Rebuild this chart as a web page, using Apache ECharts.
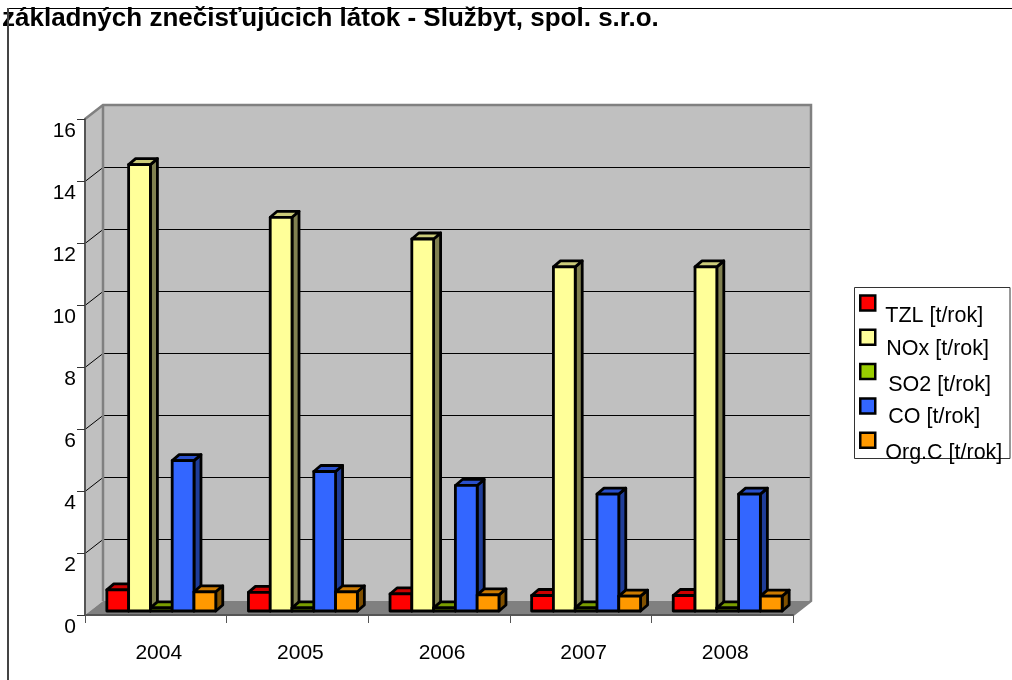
<!DOCTYPE html>
<html>
<head>
<meta charset="utf-8">
<title>Emisie</title>
<script src="https://cdn.jsdelivr.net/npm/echarts@6/dist/echarts.min.js"></script>
<style>
  html, body { margin: 0; padding: 0; background: #fff; }
  #chart { width: 1012px; height: 680px; }
</style>
</head>
<body>
<div id="chart"></div>
<script>
  const titleText = 'základných znečisťujúcich látok - Službyt, spol. s.r.o.'
  const years = ['2004', '2005', '2006', '2007', '2008']
  const yTicks = [2, 4, 6, 8, 10, 12, 14, 16]

  const tzl = [0.68, 0.6, 0.55, 0.5, 0.5]
  const nox = [14.4, 12.7, 12.0, 11.1, 11.1]
  const so2 = [0.1, 0.1, 0.1, 0.1, 0.1]
  const co = [4.85, 4.5, 4.05, 3.77, 3.77]
  const orgC = [0.62, 0.62, 0.52, 0.48, 0.48]

  const seriesNames = ['TZL [t/rok]', 'NOx [t/rok]', 'SO2 [t/rok]', 'CO [t/rok]', 'Org.C [t/rok]']
  const seriesValues = [tzl, nox, so2, co, orgC]
  const faceColors = ['#ff0000', '#ffff99', '#99cc00', '#3366ff', '#ff9900']
  const topColors = ['#cc0000', '#cccc7a', '#7a9e00', '#2a50cc', '#cc7a00']
  const sideColors = ['#800000', '#808050', '#4d6600', '#1f3d99', '#805000']

  // 3d look: how far the back wall and the bars are pushed
  const wallDx = 18, wallDy = 14
  const barShiftX = 5.5, barShiftY = 4
  const barDx = 7, barDy = 6

  function renderWalls(params, api) {
    const g = params.coordSys
    const left = g.x, right = g.x + g.width, top = g.y, bottom = g.y + g.height
    const wall = {fill: '#c0c0c0', stroke: null}
    let children = [
      {type: 'polygon', shape: {points: [[left, top], [left + wallDx, top - wallDy], [left + wallDx, bottom - wallDy], [left, bottom]]}, style: wall},
      {type: 'rect', shape: {x: left + wallDx, y: top - wallDy, width: g.width, height: g.height}, style: wall},
      {type: 'polygon', shape: {points: [[left, bottom], [left + wallDx, bottom - wallDy], [right + wallDx, bottom - wallDy], [right, bottom]]}, style: {fill: '#808080'}}
    ]
    yTicks.forEach(t => {
      const y = Math.round(api.coord([0, t])[1]) + 0.5
      if (t < 16) {
        children.push({type: 'line', shape: {x1: left + wallDx, y1: y - wallDy, x2: right + wallDx, y2: y - wallDy}, style: {stroke: '#000', lineWidth: 1}})
        children.push({type: 'line', shape: {x1: left, y1: y, x2: left + wallDx, y2: y - wallDy}, style: {stroke: '#000', lineWidth: 1}})
      }
    })
    // grey outline of the walls
    children.push({
      type: 'polyline',
      shape: {points: [[left, top], [left + wallDx, top - wallDy], [right + wallDx, top - wallDy], [right + wallDx, bottom - wallDy], [right, bottom]]},
      style: {fill: null, stroke: '#808080', lineWidth: 2.5}
    })
    children.push({type: 'line', shape: {x1: left + wallDx, y1: top - wallDy, x2: left + wallDx, y2: bottom - wallDy}, style: {stroke: '#808080', lineWidth: 2.5}})
    return {type: 'group', children: children}
  }

  function makeBarRenderer(i) {
    return function (params, api) {
      const catWidth = api.size([1, 0])[0]
      const w = catWidth / 6.5
      const center = api.coord([api.value(0), 0])
      const tip = api.coord([api.value(0), api.value(1)])
      const x0 = center[0] + (i - 2.5) * w + barShiftX
      const x1 = x0 + w
      const yb = center[1] - barShiftY
      const yt = tip[1] - barShiftY
      const edge = {stroke: '#000', lineWidth: 2.8, lineJoin: 'round'}
      return {
        type: 'group',
        children: [
          {type: 'polygon', shape: {points: [[x1, yb], [x1 + barDx, yb - barDy], [x1 + barDx, yt - barDy], [x1, yt]]}, style: {fill: sideColors[i], ...edge}},
          {type: 'polygon', shape: {points: [[x0, yt], [x0 + barDx, yt - barDy], [x1 + barDx, yt - barDy], [x1, yt]]}, style: {fill: topColors[i], ...edge}},
          {type: 'rect', shape: {x: x0, y: yt, width: w, height: yb - yt}, style: {fill: faceColors[i], ...edge}}
        ]
      }
    }
  }

  const barSeries = seriesNames.map((name, i) => ({
    name: name,
    type: 'custom',
    z: 3,
    silent: true,
    renderItem: makeBarRenderer(i),
    encode: {x: 0, y: 1},
    itemStyle: {color: faceColors[i]},
    data: seriesValues[i].map((v, k) => [k, v])
  }))

  // legend text sits under its key, each row a little differently:
  // an empty first line pushes the label down, both lines add up to the same height
  const legendRowHeight = 48
  const legendDrop = [26, 24, 26, 22, 26]
  const legendIndent = [5, 6, 8, 8, 5]

  const chart = echarts.init(document.getElementById('chart'), null, {renderer: 'canvas'})
  chart.setOption({
    animation: false,
    backgroundColor: '#fff',
    textStyle: {fontFamily: 'Liberation Sans'},
    title: {
      text: titleText,
      left: 2,
      top: 6,
      padding: 0,
      textStyle: {fontFamily: 'Liberation Sans', fontSize: 26, fontWeight: 'bold', color: '#000'}
    },
    graphic: [
      {type: 'line', z: 20, shape: {x1: 8, y1: 8.5, x2: 1012, y2: 8.5}, style: {stroke: '#000', lineWidth: 1}},
      {type: 'line', z: 20, shape: {x1: 8, y1: 8, x2: 8, y2: 680}, style: {stroke: '#444', lineWidth: 2}},
      {type: 'rect', z: 0, shape: {x: 854.5, y: 287.5, width: 155.5, height: 171}, style: {fill: '#fff', stroke: '#333', lineWidth: 1}}
    ],
    legend: {
      left: 859,
      top: 279,
      orient: 'vertical',
      padding: 0,
      itemWidth: 15,
      itemHeight: 15,
      itemGap: -13.7,
      selectedMode: false,
      icon: 'rect',
      z: 10,
      itemStyle: {borderColor: '#000', borderWidth: 2.5},
      formatter: function (name) {
        return '{s|\u00a0}\n{t|' + name + '}'
      },
      data: seriesNames.map((name, i) => ({
        name: name,
        textStyle: {
          padding: [0, 0, 0, legendIndent[i]],
          rich: {
            s: {fontSize: 4, lineHeight: legendDrop[i], height: legendDrop[i]},
            t: {fontFamily: 'Liberation Sans', fontSize: 21.5, color: '#000', lineHeight: legendRowHeight - legendDrop[i], height: legendRowHeight - legendDrop[i]}
          }
        }
      }))
    },
    grid: {left: 85, top: 119, width: 708, height: 496},
    xAxis: {
      type: 'category',
      data: years,
      z: 5,
      axisLine: {lineStyle: {color: '#555', width: 2}},
      axisTick: {show: true, alignWithLabel: false, length: 8, lineStyle: {color: '#555', width: 1}},
      axisLabel: {margin: 28, color: '#000', fontSize: 21, fontFamily: 'Liberation Sans', padding: [0, 0, 0, 6]}
    },
    yAxis: {
      type: 'value',
      min: 0,
      max: 16,
      interval: 2,
      z: 5,
      splitLine: {show: false},
      axisLine: {show: true, lineStyle: {color: '#555', width: 2}},
      axisTick: {show: true, length: 8, lineStyle: {color: '#333', width: 1}},
      axisLabel: {margin: 9, color: '#000', fontSize: 21, fontFamily: 'Liberation Sans', verticalAlign: 'top', lineHeight: 24}
    },
    series: [{
      type: 'custom',
      name: 'walls',
      z: 1,
      silent: true,
      renderItem: renderWalls,
      data: [[0, 0]]
    }].concat(barSeries)
  })
</script>
</body>
</html>
